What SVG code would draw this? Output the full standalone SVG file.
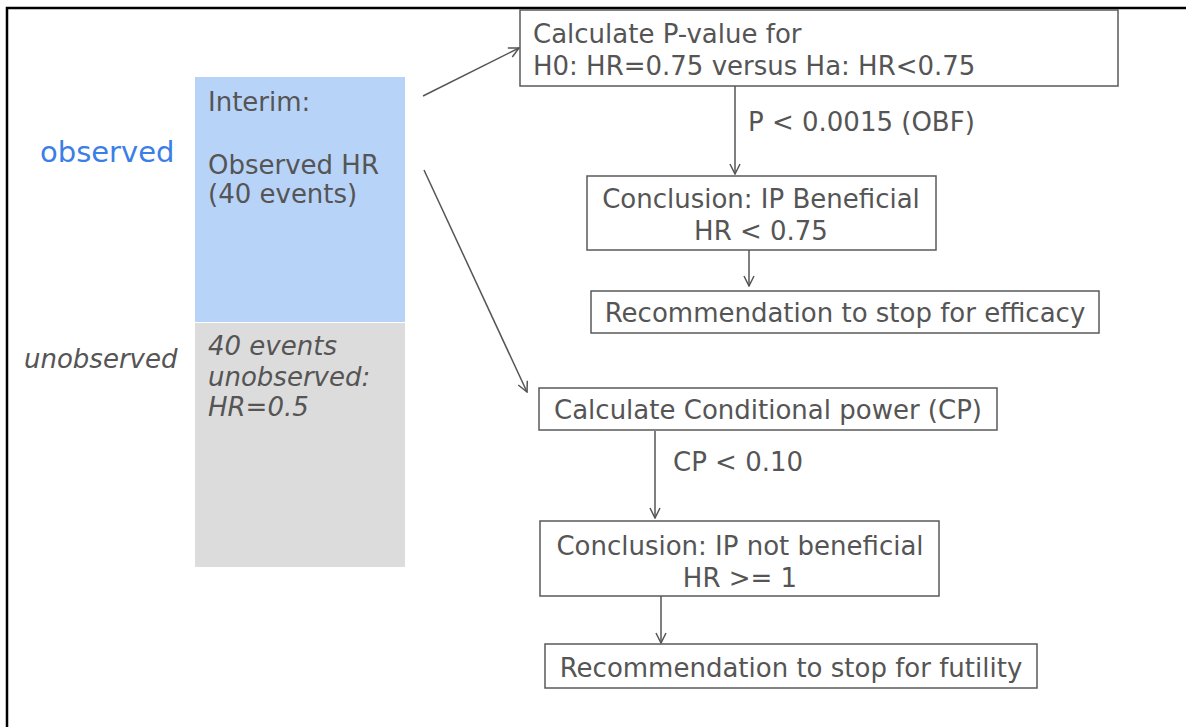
<svg xmlns="http://www.w3.org/2000/svg" width="1186" height="727" viewBox="0 0 1186 727">
  <style>
    .t { font-family: "DejaVu Sans", Verdana, sans-serif; font-size: 26px; fill: #555555; }
    .it { font-style: italic; }
    .box { fill: #ffffff; stroke: #5a5a5a; stroke-width: 1.5; }
    .edge { stroke: #555555; stroke-width: 1.5; fill: none; marker-end: url(#open); }
  </style>
  <defs>
    <marker id="open" viewBox="0 0 12 12" refX="11" refY="6" markerWidth="12" markerHeight="12" markerUnits="userSpaceOnUse" orient="auto">
      <path d="M1,1 L11,6 L1,11" fill="none" stroke="#555555" stroke-width="1.5"/>
    </marker>
  </defs>

  <rect width="1186" height="727" fill="#ffffff"/>
  <!-- page frame (top and left edges) -->
  <path d="M7,727 V8 H1186" fill="none" stroke="#000000" stroke-width="2.5"/>

  <!-- event timeline column -->
  <g id="observed-label">
    <text class="t" x="40" y="162" style="font-size:29px;fill:#3b7ee8">observed</text>
  </g>
  <g id="unobserved-label">
    <text class="t it" x="24" y="368">unobserved</text>
  </g>
  <g id="interim">
    <rect x="195" y="77" width="210" height="245" fill="#b8d3f8"/>
    <text class="t" x="208" y="111">Interim:</text>
    <text class="t" x="208" y="174">Observed HR</text>
    <text class="t" x="208" y="203">(40 events)</text>
  </g>
  <g id="remaining">
    <rect x="195" y="323" width="210" height="244" fill="#dcdcdc"/>
    <text class="t it" x="208" y="355">40 events</text>
    <text class="t it" x="208" y="386">unobserved:</text>
    <text class="t it" x="208" y="416">HR=0.5</text>
  </g>

  <!-- efficacy branch -->
  <g id="pvalue">
    <rect class="box" x="520" y="10" width="598" height="76"/>
    <text class="t" x="533" y="43">Calculate P-value for</text>
    <text class="t" x="533" y="75">H0: HR=0.75 versus Ha: HR&lt;0.75</text>
  </g>
  <g id="beneficial">
    <rect class="box" x="587" y="176" width="349" height="74"/>
    <text class="t" x="761" y="208" text-anchor="middle">Conclusion: IP Beneficial</text>
    <text class="t" x="761" y="240" text-anchor="middle">HR &lt; 0.75</text>
  </g>
  <g id="stop-efficacy">
    <rect class="box" x="591" y="291" width="508" height="42"/>
    <text class="t" x="845" y="322" text-anchor="middle">Recommendation to stop for efficacy</text>
  </g>

  <!-- futility branch -->
  <g id="cond-power">
    <rect class="box" x="539" y="388" width="458" height="42"/>
    <text class="t" x="768" y="419" text-anchor="middle">Calculate Conditional power (CP)</text>
  </g>
  <g id="not-beneficial">
    <rect class="box" x="540" y="521" width="399" height="75"/>
    <text class="t" x="740" y="555" text-anchor="middle">Conclusion: IP not beneficial</text>
    <text class="t" x="740" y="587" text-anchor="middle">HR &gt;= 1</text>
  </g>
  <g id="stop-futility">
    <rect class="box" x="545" y="644" width="492" height="44"/>
    <text class="t" x="791" y="677" text-anchor="middle">Recommendation to stop for futility</text>
  </g>

  <!-- connectors -->
  <g id="connectors">
    <line class="edge" x1="423" y1="96" x2="519" y2="48"/>
    <line class="edge" x1="424" y1="170" x2="527" y2="392"/>
    <line class="edge" x1="735" y1="86" x2="735" y2="174"/>
    <line class="edge" x1="749" y1="250" x2="749" y2="286"/>
    <line class="edge" x1="655" y1="431" x2="655" y2="518"/>
    <line class="edge" x1="661" y1="596" x2="661" y2="643"/>
    <text class="t" x="748" y="131">P &lt; 0.0015 (OBF)</text>
    <text class="t" x="673" y="471">CP &lt; 0.10</text>
  </g>
</svg>
